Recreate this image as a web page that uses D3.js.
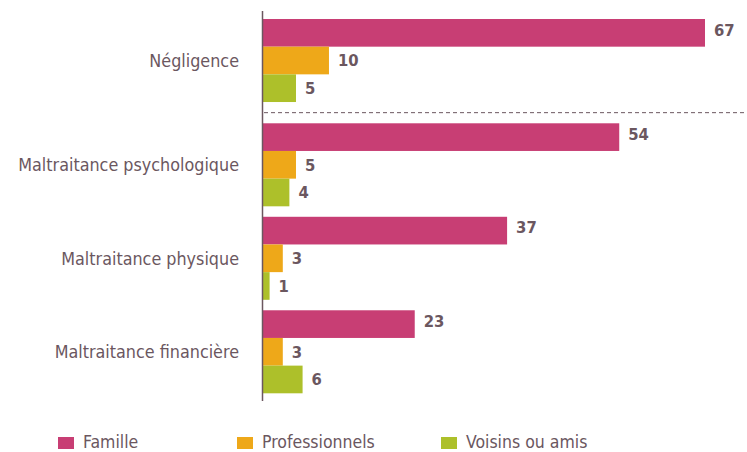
<!DOCTYPE html>
<html>
<head>
  <meta charset="utf-8">
  <script src="https://d3js.org/d3.v7.min.js"></script>
  <style>
    body { margin:0; background:#fff; }
    text { font-family: "Liberation Sans Narrow", "DejaVu Sans Condensed", "Noto Sans", sans-serif; }
  </style>
</head>
<body>
  <script>
    // données
    var categories = ["Négligence", "Maltraitance psychologique", "Maltraitance physique", "Maltraitance financière"];
    var series = ["Famille", "Professionnels", "Voisins ou amis"];
    var famille = [67, 54, 37, 23];
    var professionnels = [10, 5, 3, 3];
    var voisins = [5, 4, 1, 6];
    var colors = ["#c83e74", "#eea819", "#adc02a"];

    var values = [famille, professionnels, voisins];
    var textColor = "#6b575f";

    var svg = d3.select("body").append("svg")
      .attr("width", 747)
      .attr("height", 452);

    var x = d3.scaleLinear()
      .domain([0, d3.max(famille)])
      .range([263, 705]);

    // groupes : le premier est un peu décalé vers le haut (ligne pointillée)
    var y = d3.scaleBand()
      .domain(categories)
      .range([29.8, 393.3])
      .paddingInner(0.112)
      .paddingOuter(0);
    var firstShift = 10.8;
    function groupTop(c, i) { return y(c) - (i === 0 ? firstShift : 0); }

    var ySub = d3.scaleBand()
      .domain(series)
      .range([0, y.bandwidth()]);

    var groups = svg.selectAll("g.grp")
      .data(categories)
      .enter().append("g")
      .attr("class", "grp")
      .attr("transform", function(d, i) { return "translate(0," + groupTop(d, i) + ")"; });

    groups.each(function(cat, i) {
      var g = d3.select(this);
      series.forEach(function(s, j) {
        var v = values[j][i];
        g.append("rect")
          .attr("x", x(0))
          .attr("y", ySub(s))
          .attr("width", x(v) - x(0))
          .attr("height", ySub.bandwidth())
          .attr("fill", colors[j]);
        g.append("text")
          .attr("x", x(v) + 9)
          .attr("y", ySub(s) + ySub.bandwidth() / 2 - (j === 0 ? 3 : 0))
          .attr("dy", "0.35em")
          .attr("font-size", "16.5px")
          .attr("font-weight", "bold")
          .attr("fill", textColor)
          .text(v);
      });
      g.append("text")
        .attr("x", 239)
        .attr("y", y.bandwidth() / 2)
        .attr("dy", "0.35em")
        .attr("text-anchor", "end")
        .attr("font-size", "17.8px")
        .attr("fill", textColor)
        .text(cat);
    });

    // axe vertical
    svg.append("line")
      .attr("x1", 262.5).attr("x2", 262.5)
      .attr("y1", 11).attr("y2", 401)
      .attr("stroke", textColor)
      .attr("stroke-width", 1.5);

    // séparateur pointillé
    var sepY = (groupTop(categories[0], 0) + y.bandwidth() + y(categories[1])) / 2;
    svg.append("line")
      .attr("x1", 264).attr("x2", 747)
      .attr("y1", sepY).attr("y2", sepY)
      .attr("stroke", textColor)
      .attr("stroke-width", 1)
      .attr("stroke-dasharray", "4,3");

    // légende
    var legendX = [58, 237, 441];
    series.forEach(function(s, j) {
      svg.append("rect")
        .attr("x", legendX[j])
        .attr("y", 437)
        .attr("width", 16)
        .attr("height", 12)
        .attr("fill", colors[j]);
      svg.append("text")
        .attr("x", legendX[j] + 25)
        .attr("y", 447.5)
        .attr("font-size", "17.5px")
        .attr("fill", textColor)
        .text(s);
    });
  </script>
</body>
</html>
